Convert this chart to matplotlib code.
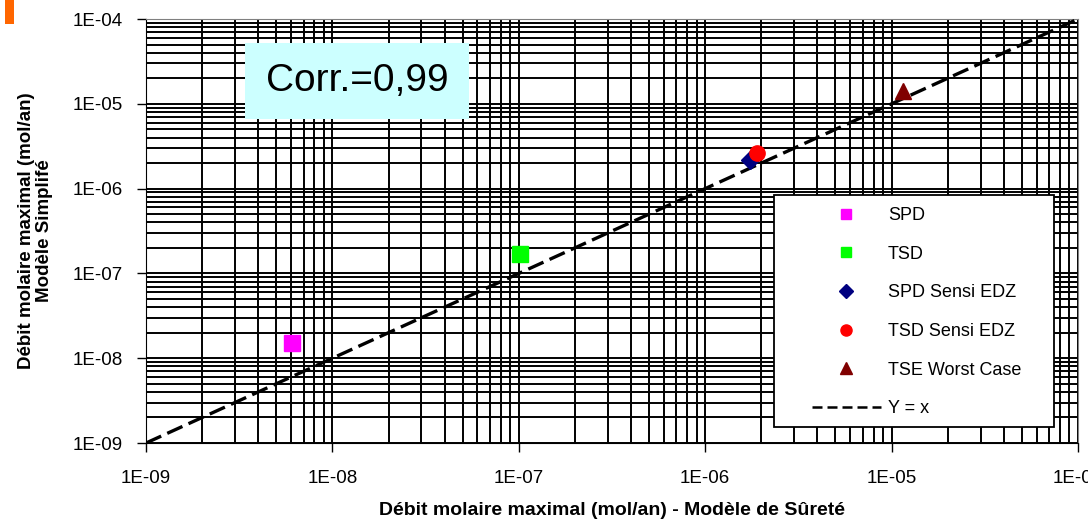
import matplotlib
matplotlib.use('Agg')
import matplotlib.pyplot as plt
import matplotlib.patches as mpatches
from matplotlib.lines import Line2D
from matplotlib.ticker import LogLocator, FixedLocator, NullFormatter
import numpy as np

# data (mol/an)
series_names = ['SPD', 'TSD', 'SPD Sensi EDZ', 'TSD Sensi EDZ', 'TSE Worst Case']
x_surete = [6.1e-9, 1.02e-7, 1.75e-6, 1.9e-6, 1.15e-5]
y_simplifie = [1.5e-8, 1.68e-7, 2.2e-6, 2.65e-6, 1.42e-5]
colors = ['#FF00FF', '#00FF00', '#000080', '#FF0000', '#800000']
markers = ['s', 's', 'D', 'o', '^']
sizes = [12, 12, 9, 11, 12]
legend_sizes = [7, 7, 7, 8, 8]

line_x = [1e-9, 1e-4]
decades = [1e-9, 1e-8, 1e-7, 1e-6, 1e-5, 1e-4]
tick_labels = ['1E-09', '1E-08', '1E-07', '1E-06', '1E-05', '1E-04']
corr_text = 'Corr.=0,99'

plt.rcParams['font.family'] = ['Liberation Sans', 'DejaVu Sans']

fig = plt.figure(figsize=(10.88, 5.22), dpi=100, facecolor='white')
ax = fig.add_axes([0.1342, 0.1513, 0.8566, 0.8123])

ax.set_xscale('log')
ax.set_yscale('log')
ax.set_xlim(1e-9, 1e-4)
ax.set_ylim(1e-9, 1e-4)

ax.xaxis.set_major_locator(FixedLocator(decades))
ax.yaxis.set_major_locator(FixedLocator(decades))
ax.set_xticklabels(tick_labels)
ax.set_yticklabels(tick_labels)
ax.xaxis.set_minor_locator(LogLocator(base=10, subs=np.arange(2, 10)))
ax.yaxis.set_minor_locator(LogLocator(base=10, subs=np.arange(2, 10)))
ax.xaxis.set_minor_formatter(NullFormatter())
ax.yaxis.set_minor_formatter(NullFormatter())

ax.grid(True, which='both', color='black', linewidth=1.4)
ax.set_axisbelow(True)
ax.tick_params(axis='both', which='major', direction='out', length=6.5,
               width=1, labelsize=13.5, colors='black')
ax.tick_params(axis='both', which='minor', length=0)
ax.tick_params(axis='x', pad=13)
ax.tick_params(axis='y', pad=10)
for side in ['top', 'right']:
    ax.spines[side].set_color('#808080')
for side in ['left', 'bottom']:
    ax.spines[side].set_color('black')

# Y = x reference line
ax.plot(line_x, line_x, color='black', linestyle='--', linewidth=2.4,
        dashes=(5, 2), zorder=3)

for xv, yv, c, m, s in zip(x_surete, y_simplifie, colors, markers, sizes):
    ax.plot([xv], [yv], linestyle='none', marker=m, markersize=s,
            color=c, markeredgecolor=c, zorder=4)

# legend frame drawn by hand so the entries can sit where they do in the original
frame = mpatches.Rectangle((0.674, 0.038), 0.3, 0.547, transform=ax.transAxes,
                           facecolor='white', edgecolor='black', linewidth=1.3,
                           zorder=5)
ax.add_patch(frame)

handles = []
for name, c, m, s in zip(series_names, colors, markers, legend_sizes):
    handles.append(Line2D([], [], linestyle='none', marker=m, markersize=s,
                          color=c, markeredgecolor=c, label=name))
handles.append(Line2D([], [], color='black', linestyle='--', linewidth=1.8,
                      dashes=(4, 2), label='Y = x'))

leg = ax.legend(handles=handles, loc='upper left',
                bbox_to_anchor=(0.7146, 0.557), frameon=False,
                fontsize=13, labelspacing=1.2, handlelength=3.8,
                handletextpad=0.4, borderpad=0, borderaxespad=0)
leg.set_zorder(6)

ax.add_patch(mpatches.Rectangle((0.1062, 0.7642), 0.2403, 0.1792,
                                transform=ax.transAxes, facecolor='#CCFFFF',
                                edgecolor='none', zorder=6))
ax.text(0.2264, 0.8538, corr_text, transform=ax.transAxes, fontsize=28,
        ha='center', va='center', zorder=7)

ax.set_xlabel('Débit molaire maximal (mol/an) - Modèle de Sûreté',
              fontsize=14, fontweight='bold', labelpad=11)
ax.set_ylabel('Débit molaire maximal (mol/an)\nModèle Simplifé',
              fontsize=13.5, fontweight='bold', labelpad=14, linespacing=1.1)

# small orange mark in the top-left corner
fig.patches.append(mpatches.Rectangle((5 / 1088, 1 - 24 / 522), 9 / 1088, 24 / 522,
                                      transform=fig.transFigure,
                                      facecolor='#FF6600', edgecolor='none'))

fig.savefig('out.png', dpi=100, facecolor='white')
